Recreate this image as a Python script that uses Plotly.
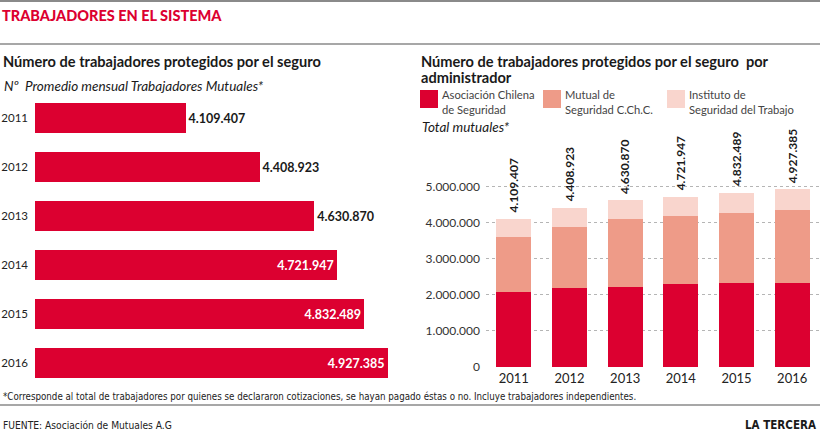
import plotly.graph_objects as go

years = ["2011", "2012", "2013", "2014", "2015", "2016"]
totals = [4109407, 4408923, 4630870, 4721947, 4832489, 4927385]
total_labels = ["4.109.407", "4.408.923", "4.630.870", "4.721.947", "4.832.489", "4.927.385"]
achs = [2070000, 2180000, 2230000, 2290000, 2340000, 2340000]
mutual = [1520000, 1710000, 1860000, 1880000, 1930000, 2020000]
ist = [t - a - m for t, a, m in zip(totals, achs, mutual)]
left_label_pos = ["outside", "outside", "outside", "inside", "inside", "inside"]

RED = "#dc0030"
SALMON = "#ee9b88"
PINK = "#f9d5cd"
W, H = 820, 434
FONT = "Lato, 'Open Sans', sans-serif"
NARROW = "'Liberation Sans Narrow', 'DejaVu Sans Condensed', Lato, sans-serif"


def px(x):
    return x / W


def py(y):
    return 1 - y / H


fig = go.Figure()

# Left horizontal bar chart
fig.add_trace(go.Bar(
    x=totals, y=years, orientation="h", marker_color=RED, marker_line_width=0,
    text=total_labels, textposition=left_label_pos,
    insidetextanchor="end", width=0.61,
    insidetextfont=dict(color="white", size=12.5, family=FONT, weight="bold"),
    outsidetextfont=dict(color="#1a1a1a", size=12.5, family=FONT, weight="bold"),
    cliponaxis=False, xaxis="x", yaxis="y", showlegend=False, hoverinfo="skip",
))

# Right stacked bars
for vals, col, name in [(achs, RED, "Asociación Chilena de Seguridad"),
                        (mutual, SALMON, "Mutual de Seguridad C.Ch.C."),
                        (ist, PINK, "Instituto de Seguridad del Trabajo")]:
    fig.add_trace(go.Bar(
        x=years, y=vals, marker_color=col, marker_line_width=0, name=name,
        xaxis="x2", yaxis="y2", showlegend=False, hoverinfo="skip",
    ))

annotations = []
for i, (t, lab) in enumerate(zip(totals, total_labels)):
    annotations.append(dict(
        x=i, y=t, xref="x2", yref="y2", text=lab, textangle=-90,
        showarrow=False, yanchor="bottom", xanchor="center", yshift=4,
        font=dict(size=12, family=FONT, color="#1a1a1a", weight="bold"),
    ))


def txt(x, y, s, size=12, color="#1a1a1a", family=FONT, weight="normal", italic=False,
        xanchor="left", yanchor="middle"):
    annotations.append(dict(
        x=px(x), y=py(y), xref="paper", yref="paper", text=s, showarrow=False,
        xanchor=xanchor, yanchor=yanchor, align="left",
        font=dict(size=size, color=color, family=family, weight=weight,
                  style="italic" if italic else "normal"),
    ))


txt(0, 15, "TRABAJADORES EN EL SISTEMA", size=14.5, color=RED, weight=900)
txt(1, 61, "Número de trabajadores protegidos por el seguro", size=14.6, weight="bold")
txt(2, 86, "Nº  Promedio mensual Trabajadores Mutuales*", size=13.5, italic=True)
txt(419, 62, "Número de trabajadores protegidos por el seguro  por", size=14.6, weight="bold")
txt(419, 77, "administrador", size=14.6, weight="bold")
txt(420, 127, "Total mutuales*", size=13.5, italic=True)

legend_items = [(420, RED, "Asociación Chilena<br>de Seguridad"),
                (543, SALMON, "Mutual de<br>Seguridad C.Ch.C."),
                (667, PINK, "Instituto de<br>Seguridad del Trabajo")]
shapes = []
for x0, col, lab in legend_items:
    shapes.append(dict(type="rect", xref="paper", yref="paper",
                       x0=px(x0), x1=px(x0 + 18), y0=py(108), y1=py(90),
                       fillcolor=col, line_width=0))
    annotations.append(dict(
        x=px(x0 + 20), y=py(101.5), xref="paper", yref="paper", text=lab,
        showarrow=False, xanchor="left", yanchor="middle", align="left",
        font=dict(size=11.2, color="#444444", family=FONT),
    ))

txt(1, 396, "*Corresponde al total de trabajadores por quienes se declararon cotizaciones, se hayan pagado éstas o no. Incluye trabajadores independientes.",
    size=9.7, family=NARROW, color="#222222")
txt(1, 425, "FUENTE: Asociación de Mutuales A.G", size=10.2, family=NARROW, color="#222222")
txt(818, 425, "LA TERCERA", size=11.5, weight="bold", family=NARROW, xanchor="right")

for yy, w in [(1, 2), (44, 1.5), (405, 1.5)]:
    shapes.append(dict(type="line", xref="paper", yref="paper", x0=0, x1=1,
                       y0=py(yy), y1=py(yy), line=dict(color="#8a8a8a", width=w)))

fig.update_layout(
    width=W, height=H, margin=dict(l=0, r=0, t=0, b=0, autoexpand=False),
    paper_bgcolor="white", plot_bgcolor="white",
    separators=",.", barmode="stack", bargap=0.37,
    font=dict(family=FONT, color="#222222"),
    annotations=annotations, shapes=shapes,
    xaxis=dict(domain=[px(35), px(410)], range=[3.5e6, 3.5e6 + 375 / 247.0 * 1e6],
               visible=False, fixedrange=True, automargin=False),
    yaxis=dict(domain=[py(387.5), py(93.5)], autorange="reversed", type="category",
               showgrid=False, showline=False, ticks="", ticklabelstandoff=6,
               tickfont=dict(size=11.5, family=FONT, color="#222222"), anchor="x",
               automargin=False),
    xaxis2=dict(domain=[px(486), 1], type="category", showgrid=False, showline=False,
                ticks="", tickfont=dict(size=13, family=FONT, color="#222222"),
                anchor="y2", ticklabelstandoff=2, automargin=False),
    yaxis2=dict(domain=[py(367), py(150)], range=[0, 217 / 36.1 * 1e6],
                tickvals=[0, 1e6, 2e6, 3e6, 4e6, 5e6], tickformat=",d",
                showgrid=True, gridcolor="#b5b5b5", griddash="dot", gridwidth=1,
                zeroline=False, showline=False, ticks="", ticklabelstandoff=5,
                tickfont=dict(size=12, family=FONT, color="#333333"), anchor="x2",
                automargin=False),
)

fig.write_html("out.html", config={"displayModeBar": False},
               post_script="document.body.style.margin='0';document.body.style.padding='0';")
